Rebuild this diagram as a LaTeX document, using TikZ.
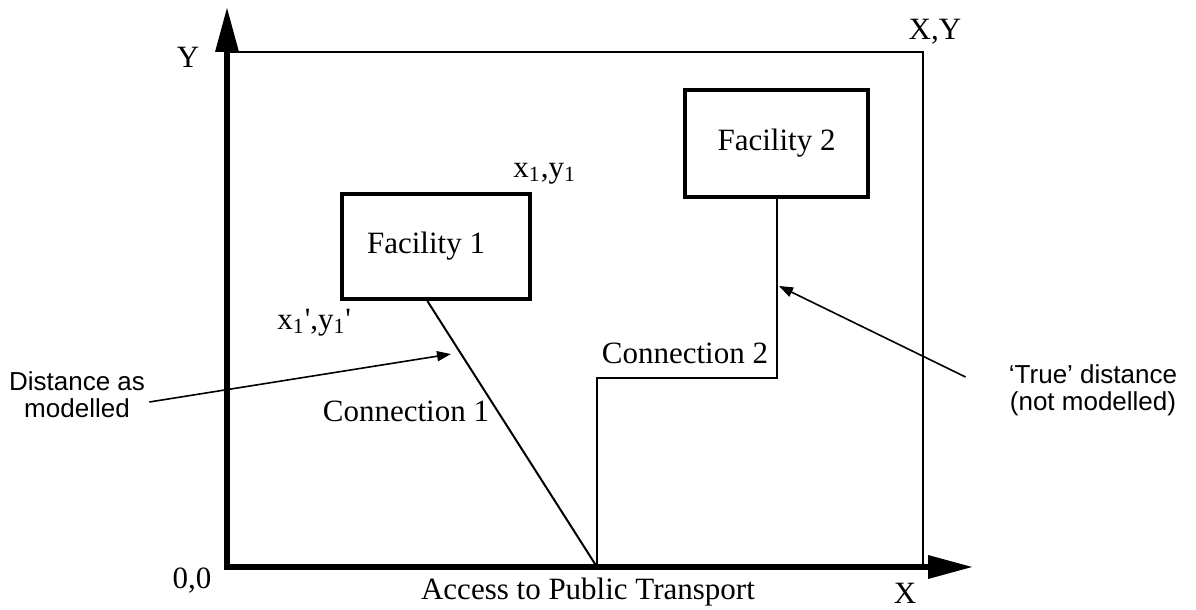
\documentclass[tikz,border=0pt]{standalone}
\usepackage{fontspec}
\setmainfont{Liberation Serif}
\newfontfamily\arialfont{Liberation Sans}
\newfontfamily\rawserif{Liberation Serif}[Ligatures=ResetAll]
\usetikzlibrary{arrows.meta,calc}

\newcommand{\pr}{{\rawserif\char"0027}}

\tikzset{
  serif/.style={font=\fontsize{15.5}{17}\selectfont, inner sep=0pt},
  sanslabel/.style={font=\arialfont\fontsize{13}{13.5}\selectfont, inner sep=0pt, align=center},
  axis/.style={line width=2.6pt, line join=miter,
    {Triangle[length=22pt,width=12pt,line width=0pt]}-{Triangle[length=22pt,width=12pt,line width=0pt]}},
  frameline/.style={line width=1pt},
  facility/.style={draw, line width=2pt, inner sep=0pt,
    font=\fontsize{15.5}{17}\selectfont},
  link/.style={line width=1pt},
  note/.style={line width=0.8pt, -{Triangle[length=7pt,width=5pt]}},
}

\begin{document}
\begin{tikzpicture}[x=0.5pt,y=-0.5pt]
  \useasboundingbox (0,0) rectangle (1196,610);

  % axes and the outer limit of the area
  \coordinate (O) at (227,567);
  \coordinate (ytip) at (227,8);
  \coordinate (xtip) at (972,567);
  \coordinate (topleft) at (227,52);
  \coordinate (topright) at (923,52);
  \coordinate (bottomright) at (923,567);
  \draw[axis] (ytip) -- (O) -- (xtip);
  \draw[frameline] (topleft) -- (topright) -- (bottomright);

  % facilities
  \node[facility, minimum width=94pt, minimum height=52.5pt] (f1) at (436,246.5) {\hspace*{-10pt}Facility 1};
  \node[facility, minimum width=91.5pt, minimum height=53.5pt] (f2) at (776.5,143.5) {Facility 2};

  % access point and connections
  \coordinate (acc) at (597,567);
  \coordinate (f1b) at ($(f1.south west)!0.455!(f1.south east)$);
  \draw[link] (f1b) -- (acc);
  \draw[link] (acc) -- ++(0,-189) -| (f2.south);

  % labels
  \node[serif] (ylab) at (188,57) {Y};
  \node[serif] (xylab) at (935,32) {X,Y};
  \node[serif] (origin) at (192,581) {0,0};
  \node[serif] (xlab) at (905,593) {X};
  \node[serif] (access) at (588,592) {Access to Public Transport};
  \node[serif, anchor=base west] (p1) at (513,177) {x\textsubscript{1},y\textsubscript{1}};
  \node[serif, anchor=base west] (p1b) at (277,329) {x\textsubscript{1}\pr,y\textsubscript{1}\pr};
  \node[serif] (c1) at (406,411) {Connection 1};
  \node[serif] (c2) at (685,353) {Connection 2};

  % annotations
  \node[sanslabel] (dam) at (77,395) {Distance as\\modelled};
  \node[sanslabel] (td) at (1093,390) {‘True’ distance\\(not modelled)};
  \coordinate (tip1) at (451,354);
  \coordinate (tip2) at (779,286);
  \draw[note] ([xshift=2pt,yshift=-3.5pt]dam.east) -- (tip1);
  \draw[note] ([xshift=-21.5pt,yshift=6.5pt]td.west) -- (tip2);
\end{tikzpicture}
\end{document}
